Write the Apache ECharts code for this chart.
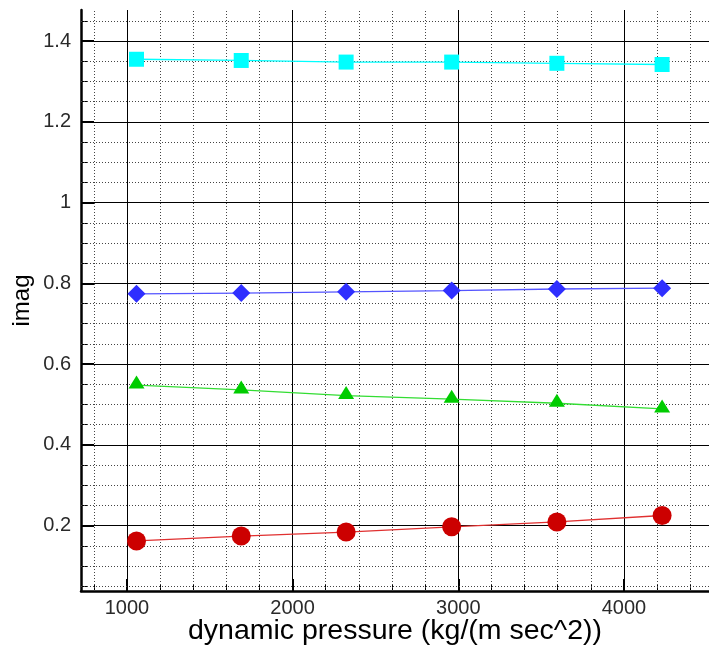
<!DOCTYPE html>
<html>
<head>
<meta charset="utf-8">
<script src="https://cdn.jsdelivr.net/npm/echarts@6/dist/echarts.min.js"></script>
<style>
  html, body { margin: 0; padding: 0; background: #fff; }
  #chart { width: 709px; height: 648px; }
</style>
</head>
<body>
<div id="chart"></div>
<script>
// Dynamic pressure sweep and the imaginary part of four modes
const pressure = [1058, 1690, 2323, 2960, 3595, 4230];
const modeCyan  = [1.355, 1.352, 1.348, 1.348, 1.345, 1.342];
const modeBlue  = [0.774, 0.776, 0.779, 0.782, 0.786, 0.788];
const modeGreen = [0.548, 0.536, 0.522, 0.513, 0.503, 0.489];
const modeRed   = [0.162, 0.174, 0.184, 0.197, 0.209, 0.225];

// Tick and grid values
const xMajorTicks = [1000, 2000, 3000, 4000];
const xMinorTicks = [800, 1200, 1400, 1600, 1800, 2200, 2400, 2600, 2800, 3200, 3400, 3600, 3800, 4200, 4400];
const yMajorTicks = [0.2, 0.4, 0.6, 0.8, 1, 1.2, 1.4];
const yMinorTicks = [0.05, 0.1, 0.15, 0.25, 0.3, 0.35, 0.45, 0.5, 0.55, 0.65, 0.7, 0.75, 0.85, 0.9, 0.95, 1.05, 1.1, 1.15, 1.25, 1.3, 1.35, 1.45];

const X_MIN = 723, X_MAX = 4513;
const Y_MIN = 0.038, Y_MAX = 1.477;

const pair = (xs, ys) => xs.map((x, i) => [x, ys[i]]);

const labelFont = { fontFamily: 'Liberation Sans, Arial, sans-serif', fontSize: 20, color: '#2a2a2a' };

const dotted = { color: '#444', width: 1, type: [1, 2] };
const solid = { color: '#000', width: 1, type: 'solid' };

const gridLines = [
  ...xMinorTicks.map(v => ({ xAxis: v, lineStyle: dotted })),
  ...yMinorTicks.map(v => ({ yAxis: v, lineStyle: dotted })),
  ...xMajorTicks.map(v => ({ xAxis: v, lineStyle: solid })),
  ...yMajorTicks.map(v => ({ yAxis: v, lineStyle: solid }))
];

function curve(name, values, color, lineColor, symbol, size, offset) {
  return {
    name, type: 'line', data: pair(pressure, values),
    symbol, symbolSize: size, symbolOffset: offset || [0, 0],
    itemStyle: { color, opacity: 1 },
    lineStyle: { color: lineColor, width: 1.3 },
    z: 5, animation: false
  };
}

const chart = echarts.init(document.getElementById('chart'), null, { renderer: 'canvas' });
chart.setOption({
  backgroundColor: '#fff',
  animation: false,
  grid: { left: 81, right: 0, top: 10, bottom: 57, containLabel: false, outerBoundsMode: 'none' },
  xAxis: [{
    type: 'value', min: X_MIN, max: X_MAX,
    name: 'dynamic pressure (kg/(m sec^2))', nameLocation: 'middle', nameGap: 26, nameMoveOverlap: false,
    nameTextStyle: { fontFamily: 'Liberation Sans, Arial, sans-serif', fontSize: 28.5, color: '#000' },
    axisLine: { show: true, onZero: false, lineStyle: { color: '#000', width: 2.5 } },
    axisTick: { show: true, inside: true, length: 12, customValues: xMajorTicks, lineStyle: { color: '#000', width: 2 } },
    axisLabel: { customValues: xMajorTicks, margin: 7, formatter: v => String(v), ...labelFont },
    splitLine: { show: false }
  }, {
    type: 'value', min: X_MIN, max: X_MAX, position: 'bottom',
    axisLine: { show: false },
    axisTick: { show: true, inside: true, length: 6, customValues: xMinorTicks, lineStyle: { color: '#000', width: 1 } },
    axisLabel: { show: false },
    splitLine: { show: false }
  }],
  yAxis: [{
    type: 'value', min: Y_MIN, max: Y_MAX,
    name: 'imag', nameLocation: 'middle', nameGap: 47, nameMoveOverlap: false,
    nameTextStyle: { fontFamily: 'Liberation Sans, Arial, sans-serif', fontSize: 24, color: '#000' },
    axisLine: { show: true, onZero: false, lineStyle: { color: '#000', width: 2.5 } },
    axisTick: { show: true, inside: true, length: 13, customValues: yMajorTicks, lineStyle: { color: '#000', width: 2 } },
    axisLabel: { customValues: yMajorTicks, margin: 10, formatter: v => String(v), ...labelFont },
    splitLine: { show: false }
  }, {
    type: 'value', min: Y_MIN, max: Y_MAX, position: 'left',
    axisLine: { show: false },
    axisTick: { show: true, inside: true, length: 7, customValues: yMinorTicks, lineStyle: { color: '#000', width: 1 } },
    axisLabel: { show: false },
    splitLine: { show: false }
  }],
  series: [
    {
      name: 'grid', type: 'line', data: [], silent: true, z: 1,
      markLine: { silent: true, symbol: ['none', 'none'], label: { show: false }, animation: false, data: gridLines }
    },
    curve('mode 4', modeCyan, '#00ffff', '#00ffff', 'rect', 15),
    curve('mode 3', modeBlue, '#2f2fff', '#5555ff', 'diamond', [18, 18]),
    curve('mode 2', modeGreen, '#00cc00', '#33dd33', 'triangle', [16, 13], [0, -3]),
    curve('mode 1', modeRed, '#cc0000', '#e03030', 'circle', 19)
  ]
});
</script>
</body>
</html>
